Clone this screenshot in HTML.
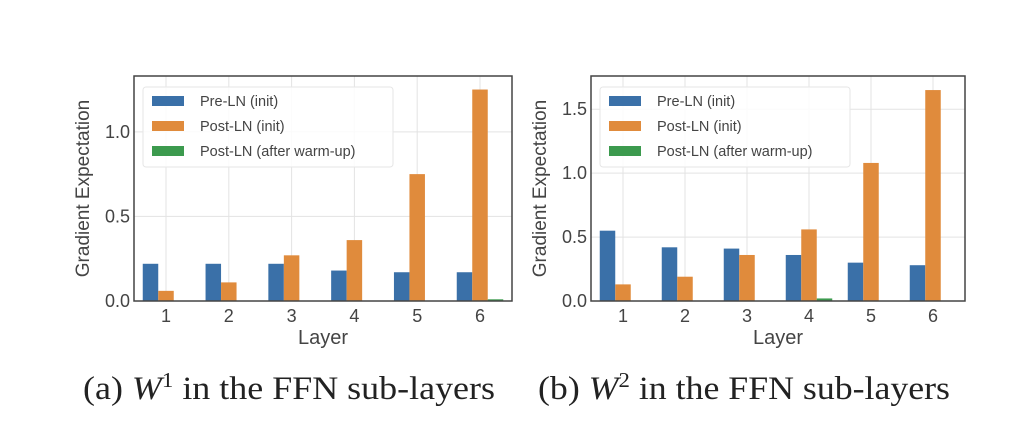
<!DOCTYPE html>
<html><head><meta charset="utf-8"><style>
html,body{margin:0;padding:0;background:#fff;}
svg{display:block;font-family:"Liberation Sans",sans-serif;}
</style></head><body>
<svg id="svg" width="1028" height="424" viewBox="0 0 1028 424" xmlns="http://www.w3.org/2000/svg">
<rect width="1028" height="424" fill="#fff"/>
<g id="chartA"></g>
<g id="chartB"></g>
<text x="83" y="399" font-family="Liberation Serif, serif" font-size="33" fill="#222" textLength="412" lengthAdjust="spacingAndGlyphs">(a) <tspan font-style="italic">W</tspan><tspan dy="-12" font-size="21">1</tspan><tspan dy="12"> in the FFN sub-layers</tspan></text>
<text x="538" y="399" font-family="Liberation Serif, serif" font-size="33" fill="#222" textLength="412" lengthAdjust="spacingAndGlyphs">(b) <tspan font-style="italic">W</tspan><tspan dy="-12" font-size="21">2</tspan><tspan dy="12"> in the FFN sub-layers</tspan></text>
</svg>
<script>
const categories = [1,2,3,4,5,6];
const seriesNames = ["Pre-LN (init)","Post-LN (init)","Post-LN (after warm-up)"];
const aPre = [0.22,0.22,0.22,0.18,0.17,0.17];
const aPost = [0.06,0.11,0.27,0.36,0.75,1.25];
const aWarm = [0,0,0,0,0,0.01];
const aTicks = [0.0,0.5,1.0];
const aTickLabels = ["0.0","0.5","1.0"];
const bPre = [0.55,0.42,0.41,0.36,0.30,0.28];
const bPost = [0.13,0.19,0.36,0.56,1.08,1.65];
const bWarm = [0,0,0,0.02,0,0];
const bTicks = [0.0,0.5,1.0,1.5];
const bTickLabels = ["0.0","0.5","1.0","1.5"];
const colors = ["#3a70a8","#e08b3c","#3c9a4e"];
const NS="http://www.w3.org/2000/svg";
function mk(parent,tag,attrs,text){const e=document.createElementNS(NS,tag);for(const k in attrs)e.setAttribute(k,attrs[k]);if(text!==undefined)e.textContent=text;parent.appendChild(e);return e;}
function draw(g,cfg){
  const {x0,x1,y0,y1,ymax,series,ticks,tickLabels,tag}=cfg;
  const ys=v=>y1-(v/ymax)*(y1-y0);
  const first=x0+32, step=(x1-x0-64)/5;
  const xs=i=>first+i*step;
  ticks.forEach(t=>{const l=mk(g,'line',{x1:x0,x2:x1,y1:ys(t),y2:ys(t),stroke:'#e3e3e3','stroke-width':1});
    
    });
  categories.forEach((c,i)=>{const l=mk(g,'line',{x1:xs(i),x2:xs(i),y1:y0,y2:y1,stroke:'#e3e3e3','stroke-width':1});
    
    });
  const bw=15.5;
  series.forEach((s,si)=>{s.forEach((v,i)=>{
    const cx=xs(i)+(si-1)*bw;
    const r=mk(g,'rect',{x:cx-bw/2,y:ys(v),width:bw,height:y1-ys(v),fill:colors[si]});
    
    
  });});
  const f=mk(g,'rect',{x:x0,y:y0,width:x1-x0,height:y1-y0,fill:'none',stroke:'#444','stroke-width':1.5});
  
  
  ticks.forEach((t,i)=>{const tx=mk(g,'text',{x:x0-4,y:ys(t)+6,'text-anchor':'end','font-size':18,fill:'#444'},tickLabels[i]);
    
    });
  categories.forEach((c,i)=>{const tx=mk(g,'text',{x:xs(i),y:y1+21,'text-anchor':'middle','font-size':18,fill:'#444'},String(c));
    
    });
  const xt=mk(g,'text',{x:(x0+x1)/2,y:y1+43,'text-anchor':'middle','font-size':20,fill:'#444'},'Layer');
  
  
  const yt=mk(g,'text',{x:0,y:0,'text-anchor':'middle','font-size':19,fill:'#444',transform:`translate(${x0-45},${(y0+y1)/2}) rotate(-90)`},'Gradient Expectation');
  
  
  const lg=mk(g,'g',{});
  
  
  const lb=mk(lg,'rect',{x:x0+9,y:87,width:250,height:80,fill:'#fff','fill-opacity':0.85,stroke:'#e6e6e6',rx:3});
  
  
  seriesNames.forEach((n,si)=>{const yy=101+si*25;
    const p=mk(lg,'rect',{x:x0+18,y:yy-5,width:32,height:10,fill:colors[si]});
    
    
    const t=mk(lg,'text',{x:x0+66,y:yy+5,'font-size':14.5,fill:'#444'},n);
    
    });
}
draw(document.getElementById('chartA'),{x0:134,x1:512,y0:76,y1:301,ymax:1.33,series:[aPre,aPost,aWarm],ticks:aTicks,tickLabels:aTickLabels,tag:'a'});
draw(document.getElementById('chartB'),{x0:591,x1:965,y0:76,y1:301,ymax:1.76,series:[bPre,bPost,bWarm],ticks:bTicks,tickLabels:bTickLabels,tag:'b'});
</script>
</body></html>
